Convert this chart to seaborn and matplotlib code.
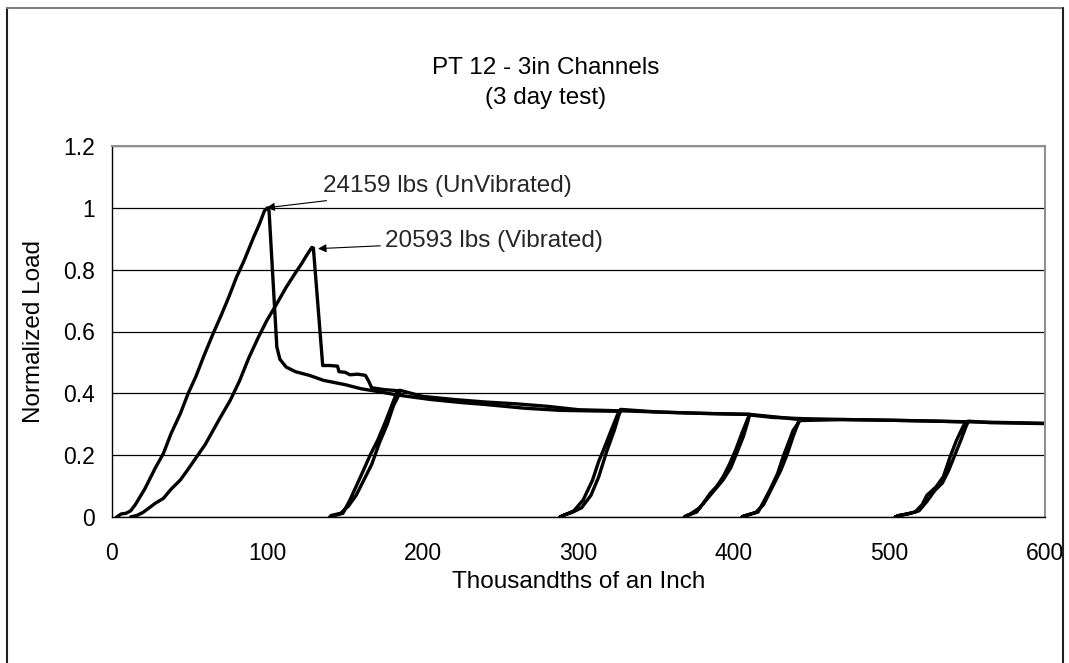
import matplotlib
matplotlib.use("Agg")
import matplotlib.pyplot as plt
from matplotlib.lines import Line2D
import seaborn as sns
import pandas as pd

# ---------------- data ----------------
title_text = "PT 12 - 3in Channels\n(3 day test)"
x_label = "Thousandths of an Inch"
y_label = "Normalized Load"
x_ticks = [0, 100, 200, 300, 400, 500, 600]
y_ticks = [0, 0.2, 0.4, 0.6, 0.8, 1.0, 1.2]
y_tick_labels = ["0", "0.2", "0.4", "0.6", "0.8", "1", "1.2"]

# UnVibrated specimen (peak 24159 lbs)
unvib_x = [3, 6, 9, 12, 15, 18, 21, 24, 28, 33, 38, 44, 49, 54, 59, 65, 70, 75, 80, 85, 91, 95, 98, 100,
           101, 106, 108, 112, 118, 127, 136, 150, 160, 172, 183, 205, 225, 240, 265, 288, 310, 327,
           326, 323, 318, 313, 308, 302, 296, 290, 288,
           289, 297, 303, 309, 313, 316, 321, 325, 327,
           350, 380, 410, 430, 442,
           441, 438, 434, 430, 424, 419, 414, 408, 405,
           406, 415.5, 423, 428, 431.6, 435, 438, 442.4,
           470, 500, 530, 560, 600]
unvib_y = [0, 0.01, 0.012, 0.02, 0.04, 0.065, 0.09, 0.12, 0.16, 0.205, 0.27, 0.335, 0.40, 0.455, 0.52, 0.593, 0.65, 0.71, 0.775, 0.83, 0.904, 0.95, 0.99, 1.0,
           0.99, 0.55, 0.51, 0.485, 0.47, 0.458, 0.442, 0.428, 0.415, 0.405, 0.395, 0.38, 0.37, 0.364, 0.352, 0.345, 0.343, 0.342,
           0.33, 0.28, 0.21, 0.13, 0.07, 0.03, 0.015, 0.005, 0,
           0.002, 0.02, 0.055, 0.119, 0.18, 0.216, 0.28, 0.33, 0.348,
           0.34, 0.335, 0.332, 0.322, 0.315,
           0.30, 0.26, 0.20, 0.15, 0.09, 0.04, 0.015, 0.005, 0,
           0.003, 0.016, 0.087, 0.14, 0.195, 0.24, 0.28, 0.312,
           0.315, 0.313, 0.31, 0.307, 0.303]

# Vibrated specimen (peak 20593 lbs)
vib_x = [12, 16, 20, 24, 28, 33, 38, 44, 49, 54.5, 60, 65, 70, 76, 82, 88, 94, 99.5, 106, 112, 118, 122, 125, 128.5,
         129.5, 135.5, 140, 145, 146, 150, 153, 158, 163, 165, 167, 175, 185,
         184, 181, 177, 172, 167, 162, 157, 152, 147, 141, 140,
         141, 148.5, 153, 158, 161.6, 166, 171, 176, 181, 183, 185,
         200, 220, 240, 260, 280, 300, 330, 360, 390, 410,
         409, 406, 402, 398, 393, 388, 383, 378, 372, 368,
         369, 376, 381, 384.6, 389, 393, 397, 401, 405, 409, 410,
         425, 445, 475, 500, 530, 550.5,
         549, 546, 542, 538, 534, 529, 524, 519, 512, 506, 503.5,
         505, 516.4, 521, 524, 530, 534.6, 539, 543, 547.5, 550.5,
         565, 580, 600]
vib_y = [0, 0.005, 0.015, 0.03, 0.045, 0.06, 0.09, 0.12, 0.155, 0.195, 0.235, 0.28, 0.325, 0.377, 0.44, 0.515, 0.58, 0.635, 0.69, 0.743, 0.79, 0.82, 0.845, 0.872,
         0.87, 0.49, 0.49, 0.488, 0.47, 0.468, 0.46, 0.462, 0.458, 0.44, 0.418, 0.412, 0.408,
         0.39, 0.36, 0.30, 0.24, 0.17, 0.12, 0.07, 0.035, 0.012, 0.005, 0,
         0.002, 0.012, 0.055, 0.11, 0.15, 0.20, 0.25, 0.31, 0.375, 0.40, 0.41,
         0.39, 0.38, 0.372, 0.366, 0.358, 0.347, 0.343, 0.338, 0.334, 0.332,
         0.31, 0.26, 0.21, 0.16, 0.12, 0.09, 0.06, 0.03, 0.01, 0,
         0.003, 0.016, 0.05, 0.076, 0.10, 0.13, 0.17, 0.216, 0.27, 0.32, 0.33,
         0.322, 0.318, 0.315, 0.313, 0.31, 0.307,
         0.29, 0.25, 0.20, 0.15, 0.11, 0.085, 0.05, 0.02, 0.01, 0.005, 0,
         0.003, 0.016, 0.04, 0.07, 0.098, 0.13, 0.195, 0.247, 0.295, 0.31,
         0.305, 0.304, 0.302]

annot_unvib = "24159 lbs (UnVibrated)"
annot_vib = "20593 lbs (Vibrated)"

# ---------------- style ----------------
sns.set_theme(style="white")
plt.rcParams["font.family"] = ["Liberation Sans", "DejaVu Sans"]
FS_TICK = 16.5
FS = 17.5

W, H = 1069, 663
fig = plt.figure(figsize=(W / 100, H / 100), dpi=100)
fig.patch.set_facecolor("white")
ax = fig.add_axes([112 / W, 1 - 517 / H, (1045 - 112) / W, (517 - 146) / H])

df_u = pd.DataFrame({"x": unvib_x, "y": unvib_y})
df_v = pd.DataFrame({"x": vib_x, "y": vib_y})
sns.lineplot(data=df_u, x="x", y="y", sort=False, estimator=None, color="black", lw=2.4, ax=ax)
sns.lineplot(data=df_v, x="x", y="y", sort=False, estimator=None, color="black", lw=2.4, ax=ax)

ax.set_xlim(0, 600)
ax.set_ylim(0, 1.2)
ax.set_xticks(x_ticks)
ax.set_xticklabels([str(v) for v in x_ticks], fontsize=FS_TICK)
ax.set_yticks(y_ticks)
ax.set_yticklabels(y_tick_labels, fontsize=FS_TICK)
ax.tick_params(axis="both", direction="out", length=5, width=1, color="black", labelcolor="black")
ax.tick_params(axis="y", pad=7)
ax.tick_params(axis="x", pad=13)
ax.yaxis.grid(True, color="black", lw=0.9)
ax.xaxis.grid(False)
ax.set_axisbelow(True)
for s in ["left", "bottom"]:
    ax.spines[s].set_color("black")
    ax.spines[s].set_linewidth(1.0)
for s in ["top", "right"]:
    ax.spines[s].set_color("#909090")
    ax.spines[s].set_linewidth(1.5)

ax.set_xlabel(x_label, fontsize=FS, color="black")
ax.set_ylabel(y_label, fontsize=FS, color="black")
ax.xaxis.set_label_coords(0.5, (517 - 582) / 371)
ax.xaxis.label.set_va("center")
ax.yaxis.set_label_coords((34 - 112) / 933, 0.5)
ax.yaxis.label.set_va("center")

fig.text(546 / W, 1 - 83 / H, title_text, ha="center", va="center", fontsize=FS,
         linespacing=1.42, color="black")

arrow = dict(arrowstyle="-|>", color="black", lw=0.8, mutation_scale=12, shrinkA=1, shrinkB=0)
ax.annotate(annot_unvib, xy=(99.3, 1.0), xytext=(135.5, 1.07), fontsize=FS, ha="left", va="center",
            arrowprops=arrow)
ax.annotate(annot_vib, xy=(132.5, 0.868), xytext=(175.5, 0.894), fontsize=FS, ha="left", va="center",
            arrowprops=arrow)

# outer chart-area frame (bottom edge falls outside the image)
fig.add_artist(Line2D([7 / W, 7 / W], [0, 1 - 7.5 / H], transform=fig.transFigure, color="#202020", lw=1.5))
fig.add_artist(Line2D([7 / W, 1063 / W], [1 - 7.5 / H, 1 - 7.5 / H], transform=fig.transFigure, color="#808080", lw=1.5))
fig.add_artist(Line2D([1063 / W, 1063 / W], [0, 1 - 7.5 / H], transform=fig.transFigure, color="#202020", lw=1.5))

fig.savefig("out.png", dpi=100, facecolor="white")
